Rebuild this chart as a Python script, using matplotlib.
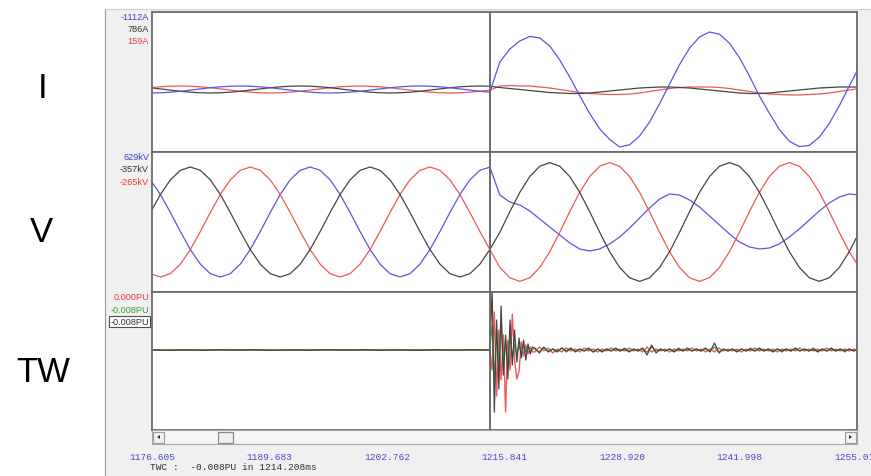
import numpy as np
import matplotlib
matplotlib.use('Agg')
import matplotlib.pyplot as plt
import matplotlib.transforms as mtransforms
from matplotlib.patches import Rectangle, Polygon

plt.rcParams['font.family'] = ['Liberation Sans', 'DejaVu Sans']

# ---------------- data ----------------
T0, T1 = 1176.605, 1255.07          # ms, visible window
FAULT = 1214.208                     # ms, cursor / fault instant

tick_times = [1176.605, 1189.683, 1202.762, 1215.841, 1228.920, 1241.998, 1255.077]
tick_labels = ['1176.605', '1189.683', '1202.762', '1215.841', '1228.920', '1241.998', '1255.077']

# waveform samples, one every 10/9 ms (k = -34 .. 37 around the fault)
wave_k = np.arange(-34, 38)

# currents, A
i_blue_pre = [-150, -139, -109, -63, -5, 55, 113, 159, 189, 200, 189, 159, 113, 55, -5, -63, -109, -139, -150,
              -139, -109, -63, -5, 55, 113, 159, 189, 200, 189, 159, 113, 55, -5, -63, -109]
i_blue_post = [1400, 2050, 2450, 2680, 2600, 2200, 1500, 650, -280, -1180, -1940, -2470, -2850, -2740, -2300,
               -1600, -690, 300, 1270, 2090, 2650, 2900, 2790, 2340, 1620, 700, -300, -1160, -1980, -2560,
               -2830, -2770, -2360, -1670, -790, 200, 1160]
i_black_pre = [113, 55, -5, -63, -109, -139, -150, -139, -109, -63, -5, 55, 113, 159, 189, 200, 189, 159, 113,
               55, -5, -63, -109, -139, -150, -139, -109, -63, -5, 55, 113, 159, 189, 200, 189]
i_black_post = [125, 75, 25, -25, -75, -125, -150, -175, -175, -150, -100, -50, 0, 50, 100, 125, 150, 150, 125,
                100, 50, 0, -50, -100, -150, -175, -175, -150, -100, -50, 0, 50, 100, 125, 150, 150, 150]
i_red_pre = [113, 159, 189, 200, 189, 159, 113, 55, -5, -63, -109, -139, -150, -139, -109, -63, -5, 55, 113,
             159, 189, 200, 189, 159, 113, 55, -5, -63, -109, -139, -150, -139, -109, -63, -5]
i_red_post = [200, 225, 200, 200, 150, 100, 25, -50, -125, -175, -200, -225, -225, -200, -150, -75, 0, 75, 125,
              150, 150, 150, 125, 75, 0, -75, -150, -200, -225, -250, -250, -225, -200, -150, -75, 0, 75]

# voltages, kV
v_blue_pre = [483, 315, 109, -109, -315, -483, -592, -630, -592, -483, -315, -109, 109, 315, 483, 592, 630, 592,
              483, 315, 109, -109, -315, -483, -592, -630, -592, -483, -315, -109, 109, 315, 483, 592, 629]
v_blue_post = [309, 229, 195, 126, 34, -57, -149, -240, -309, -332, -309, -252, -172, -69, 46, 160, 263, 321,
               309, 252, 172, 69, -34, -137, -229, -286, -309, -298, -252, -172, -80, 23, 126, 218, 286, 321, 309]
v_black_pre = [109, 315, 483, 592, 630, 592, 483, 315, 109, -109, -315, -483, -592, -630, -592, -483, -315, -109,
               109, 315, 483, 592, 630, 592, 483, 315, 109, -109, -315, -483, -592, -630, -592, -483, -315]
v_black_post = [-118, 118, 340, 521, 639, 680, 639, 521, 340, 118, -118, -340, -521, -639, -680, -639, -521, -340,
                -118, 118, 340, 521, 639, 680, 639, 521, 340, 118, -118, -340, -521, -639, -680, -639, -521, -340,
                -118]
v_red_pre = [-592, -630, -592, -483, -315, -109, 109, 315, 483, 592, 630, 592, 483, 315, 109, -109, -315, -483,
             -592, -630, -592, -483, -315, -109, 109, 315, 483, 592, 630, 592, 483, 315, 109, -109, -315]
v_red_post = [-521, -639, -680, -639, -521, -340, -118, 118, 340, 521, 639, 680, 639, 521, 340, 118, -118, -340,
              -521, -639, -680, -639, -521, -340, -118, 118, 340, 521, 639, 680, 639, 521, 340, 118, -118, -340,
              -521]

# travelling wave, PU : before fault (every 2 ms), burst (every 0.25 ms), tail (every 0.5 ms)
tw_pre_ms = np.arange(-38, 0, 2.0)
tw_burst_ms = np.arange(0, 5, 0.25)
tw_tail_ms = np.arange(5, 41.5, 0.5)

tw_black_pre = [0.003, -0.004, 0.002, -0.003, 0.004, -0.002, 0.003, -0.004, 0.002, -0.003, 0.004, -0.002,
                0.003, -0.003, 0.002, -0.004, 0.003, -0.002, 0.003]
tw_red_pre = [-0.003, 0.002, -0.004, 0.003, -0.002, 0.004, -0.003, 0.002, -0.004, 0.003, -0.002, 0.004,
              -0.003, 0.003, -0.002, 0.004, -0.003, 0.002, -0.003]
tw_green_pre = [0.002, -0.002, 0.003, -0.002, 0.002, -0.003, 0.002, -0.002, 0.003, -0.002, 0.002, -0.003,
                0.002, -0.002, 0.003, -0.002, 0.002, -0.003, 0.002]

tw_black_burst = [0, 0.60, -0.62, 0.30, -0.39, 0.44, -0.25, 0.15, -0.29, 0.30, -0.15, 0.20, -0.12, 0.12,
                  -0.08, 0.10, -0.10, 0.06, -0.04, 0.03]
tw_red_burst = [0, -0.20, 0.38, -0.46, 0.20, -0.30, 0.15, -0.62, 0.10, -0.20, 0.36, -0.10, -0.29, -0.21,
                0.08, -0.06, 0.05, -0.04, 0.03, -0.02]
tw_green_burst = [0, 0.25, -0.30, 0.20, -0.15, 0.30, -0.20, 0.10, -0.12, 0.15, -0.08, 0.06, -0.05, 0.04,
                  -0.03, 0.03, -0.02, 0.02, -0.01, 0.01]

tw_black_tail = [0.02, -0.03, 0.03, -0.02, 0.01, -0.02, 0.02, -0.01, 0.02, -0.02,
                 0.01, -0.01, 0.02, -0.02, 0.01, -0.02, 0.01, -0.01, 0.02, -0.01,
                 0.01, -0.02, 0.01, -0.01, 0.02, -0.05, 0.05, -0.03, 0.01, -0.01,
                 0.01, -0.02, 0.01, -0.01, 0.02, -0.01, 0.01, -0.01, 0.02, -0.02,
                 0.07, -0.03, 0.01, -0.01, 0.01, -0.02, 0.01, -0.01, 0.01, -0.01,
                 0.02, -0.01, 0.01, -0.02, 0.01, -0.01, 0.01, -0.01, 0.02, -0.01,
                 0.01, -0.01, 0.01, -0.02, 0.01, -0.01, 0.02, -0.01, 0.01, -0.01,
                 0.01, -0.01, 0.01]
tw_red_tail = [-0.02, 0.03, -0.01, 0.02, -0.03, 0.01, -0.02, 0.02, -0.01, 0.01,
               -0.02, 0.02, -0.01, 0.01, -0.02, 0.01, -0.01, 0.02, -0.01, 0.01,
               -0.01, 0.02, -0.01, 0.01, -0.02, 0.03, -0.02, 0.01, -0.01, 0.01,
               -0.02, 0.01, -0.01, 0.01, -0.01, 0.02, -0.01, 0.01, -0.02, 0.01,
               -0.02, 0.02, -0.01, 0.01, -0.01, 0.01, -0.02, 0.01, -0.01, 0.02,
               -0.01, 0.01, -0.01, 0.01, -0.02, 0.01, -0.01, 0.01, -0.01, 0.02,
               -0.01, 0.01, -0.01, 0.01, -0.01, 0.02, -0.01, 0.01, -0.01, 0.01,
               -0.01, 0.01, -0.01]
tw_green_tail = [0.01, -0.02, 0.02, -0.01, 0.01, -0.01, 0.02, -0.02, 0.01, -0.01,
                 0.01, -0.01, 0.01, -0.02, 0.01, -0.01, 0.01, -0.01, 0.01, -0.01,
                 0.02, -0.01, 0.01, -0.01, 0.01, -0.02, 0.03, -0.01, 0.01, -0.01,
                 0.01, -0.01, 0.02, -0.01, 0.01, -0.01, 0.01, -0.01, 0.01, -0.01,
                 0.03, -0.02, 0.01, -0.01, 0.01, -0.01, 0.01, -0.01, 0.02, -0.01,
                 0.01, -0.01, 0.01, -0.01, 0.01, -0.02, 0.01, -0.01, 0.01, -0.01,
                 0.01, -0.01, 0.02, -0.01, 0.01, -0.01, 0.01, -0.01, 0.01, -0.02,
                 0.01, -0.01, 0.01]

# cursor read-outs
i_labels = [('-1112A', 'blue'), ('786A', 'dark'), ('159A', 'red')]
v_labels = [('629kV', 'blue'), ('-357kV', 'dark'), ('-265kV', 'red')]
tw_labels = [('0.000PU', 'red'), ('-0.008PU', 'green'), ('-0.008PU', 'dark')]
twc_text = 'TWC :  -0.008PU in 1214.208ms'

# ---------------- styling ----------------
COL = {'blue': '#5656e6', 'red': '#f25656', 'dark': '#454545', 'green': '#3aa83a'}
TXT = {'blue': '#3c3cd8', 'red': '#e63c3c', 'dark': '#333333', 'green': '#35a035'}
FRAME = '#6b6b6b'
W, H = 871, 477


def box(x0, y0, x1, y1):
    """pixel rectangle -> figure fraction [left, bottom, width, height]"""
    return [x0 / W, 1 - y1 / H, (x1 - x0) / W, (y1 - y0) / H]


def panel(y0, y1, lo, hi):
    ax = fig.add_axes(box(152, y0, 857, y1))
    ax.set_xlim(T0, T1)
    ax.set_ylim(lo, hi)
    ax.set_xticks([])
    ax.set_yticks([])
    for s in ax.spines.values():
        s.set_color(FRAME)
        s.set_linewidth(1.3)
    ax.axvline(FAULT, color=FRAME, lw=1.4, zorder=6)
    return ax


def readouts(items, y_first, dy):
    for n, (txt, c) in enumerate(items):
        fig.text(149 / W, 1 - (y_first + n * dy) / H, txt, ha='right', va='center',
                 fontsize=6.6, color=TXT[c])


fig = plt.figure(figsize=(W / 100, H / 100), dpi=100)

# recorder window background
win = fig.add_axes(box(105, 10, W, H))
win.set_facecolor('#f0f0f0')
win.set_xticks([])
win.set_yticks([])
win.spines['right'].set_visible(False)
win.spines['bottom'].set_visible(False)
win.spines['left'].set_color('#9a9a9a')
win.spines['top'].set_color('#d0d0d0')

t_wave = FAULT + wave_k * (10 / 9)

# ---- I panel
axI = panel(13, 153, -3100, 3900)
axI.plot(t_wave, i_red_pre + i_red_post, color=COL['red'], lw=0.9)
axI.plot(t_wave, i_black_pre + i_black_post, color=COL['dark'], lw=0.9)
axI.plot(t_wave, i_blue_pre + i_blue_post, color=COL['blue'], lw=0.9)

# ---- V panel
axV = panel(153, 293, -802, 802)
axV.plot(t_wave, v_blue_pre + v_blue_post, color=COL['blue'], lw=0.9)
axV.plot(t_wave, v_red_pre + v_red_post, color=COL['red'], lw=0.9)
axV.plot(t_wave, v_black_pre + v_black_post, color=COL['dark'], lw=0.9)

# ---- TW panel
axT = panel(293, 431, -0.80, 0.58)
tw_t = FAULT + np.concatenate([tw_pre_ms, tw_burst_ms, tw_tail_ms])
axT.plot(tw_t, tw_red_pre + tw_red_burst + tw_red_tail, color=COL['red'], lw=1.0)
axT.plot(tw_t, tw_green_pre + tw_green_burst + tw_green_tail, color=COL['green'], lw=0.9)
axT.plot(tw_t, tw_black_pre + tw_black_burst + tw_black_tail, color=COL['dark'], lw=0.9)

# read-outs in the left column
readouts(i_labels, 18, 12)
readouts(v_labels, 157.5, 12.3)
readouts(tw_labels[:2], 297.5, 13)
fig.text(149 / W, 1 - 322.5 / H, tw_labels[2][0], ha='right', va='center', fontsize=6.6,
         color=TXT['dark'], bbox=dict(boxstyle='square,pad=0.12', fc='white', ec='#505050', lw=0.8))

# big channel names
fig.text(43 / W, 1 - 89 / H, 'I', fontsize=25, ha='center', va='center', color='black')
fig.text(41 / W, 1 - 232 / H, 'V', fontsize=25, ha='center', va='center', color='black')
fig.text(43 / W, 1 - 372 / H, 'TW', fontsize=25, ha='center', va='center', color='black')

# scroll bar
sb = fig.add_axes(box(152, 431, 857, 445))
sb.set_xlim(152, 857)
sb.set_ylim(445, 431)
sb.set_facecolor('#f7f7f7')
sb.set_xticks([])
sb.set_yticks([])
for s in sb.spines.values():
    s.set_color('#a8a8a8')
    s.set_linewidth(0.8)
for x0 in (153, 845):
    sb.add_patch(Rectangle((x0, 432.5), 11, 11, fc='#f2f2f2', ec='#9a9a9a', lw=0.8))
sb.add_patch(Polygon([[157, 438], [160, 436], [160, 440]], closed=True, fc='#303030', ec='none'))
sb.add_patch(Polygon([[852, 438], [849, 436], [849, 440]], closed=True, fc='#303030', ec='none'))
sb.add_patch(Rectangle((218, 432.5), 15, 11, fc='#f0f0f0', ec='#8a8a8a', lw=0.9))

# time labels under the plot
trans = mtransforms.blended_transform_factory(axT.transData, fig.transFigure)
for t, lab in zip(tick_times, tick_labels):
    fig.text(t, 1 - 457.5 / H, lab, transform=trans, ha='center', va='center', fontsize=6.8,
             family='Liberation Mono', color='#4a4ac8')
fig.text(150 / W, 1 - 468 / H, twc_text, ha='left', va='center', fontsize=6.8,
         family='Liberation Mono', color='#303030')

fig.savefig('out.png', dpi=100)
